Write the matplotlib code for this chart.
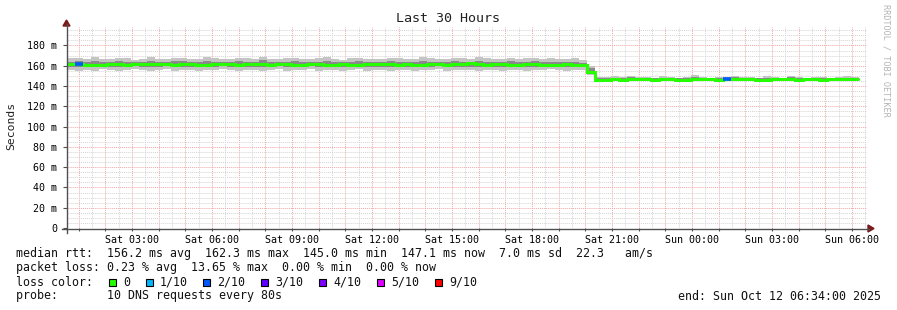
import numpy as np
import matplotlib
matplotlib.use("Agg")
import matplotlib.pyplot as plt
from matplotlib.patches import Rectangle, Polygon
from matplotlib.lines import Line2D
from matplotlib.ticker import MultipleLocator

# --- Data: 18 minute bins, window starts Sat 00:34 (hours since Sat 00:00) ---
start_h = 34 / 60
bin_h = 0.3

median = [
    161.4, 162.0, 160.8, 161.2, 161.0, 161.8, 161.6, 160.9, 161.4, 161.9,
    162.1, 161.7, 161.3, 160.7, 161.5, 161.9, 161.2, 160.8, 161.6, 162.0,
    161.4, 161.1, 161.8, 162.2, 161.5, 160.9, 161.3, 161.7, 160.6, 161.2,
    161.8, 161.4, 160.8, 161.0, 161.6, 161.2, 160.7, 161.5, 162.0, 161.9,
    161.3, 160.9, 161.4, 161.1, 160.8, 161.7, 161.3, 161.0, 161.5, 162.1,
    162.3, 161.6, 161.0, 161.4, 161.8, 161.2, 160.9, 161.3, 161.6, 161.1,
    160.8, 161.2, 161.5, 161.0, 160.6, 154.0, 146.0, 146.4, 146.8, 146.3,
    146.6, 147.0, 146.5, 146.2, 146.7, 146.9, 146.4, 146.1, 146.6, 147.1,
    146.8, 146.3, 146.5, 146.9, 147.2, 146.6, 146.2, 146.4, 146.8, 147.0,
    146.5, 146.3, 146.7, 146.9, 146.4, 146.6, 147.0, 146.8, 147.1,
]

smoke_hi = [
    167.5, 168.0, 167.0, 168.5, 166.5, 167.0, 168.0, 167.5, 166.0, 167.0,
    168.5, 167.0, 166.5, 167.5, 168.0, 166.5, 167.0, 168.5, 167.5, 166.5,
    167.0, 168.0, 167.5, 166.5, 169.0, 167.0, 166.5, 167.5, 168.0, 167.0,
    166.5, 167.5, 168.5, 167.0, 166.0, 167.5, 168.0, 167.0, 166.5, 167.0,
    168.0, 167.5, 166.5, 167.0, 168.5, 167.5, 166.5, 167.0, 168.0, 167.5,
    167.0, 168.5, 167.5, 166.5, 167.0, 168.0, 167.0, 167.5, 168.0, 166.5,
    167.5, 167.0, 166.5, 167.5, 166.0, 160.0, 149.0, 148.5, 149.5, 148.5,
    150.0, 148.5, 149.0, 148.0, 149.5, 148.5, 148.0, 149.0, 150.5, 148.5,
    148.0, 149.0, 148.5, 150.0, 149.0, 148.5, 148.0, 149.5, 148.5, 148.0,
    150.0, 148.5, 148.0, 149.0, 148.5, 148.0, 148.5, 149.5, 148.5,
]

smoke_lo = [
    155.5, 155.0, 156.0, 154.5, 156.5, 155.5, 155.0, 156.0, 156.5, 155.5,
    155.0, 156.0, 156.5, 155.0, 155.5, 156.0, 154.5, 155.5, 156.0, 156.5,
    155.5, 155.0, 156.0, 155.5, 154.5, 156.0, 156.5, 155.0, 155.5, 156.0,
    156.5, 155.0, 155.5, 156.0, 155.0, 155.5, 156.5, 155.0, 156.0, 155.5,
    155.0, 156.0, 155.5, 154.5, 156.0, 155.5, 156.5, 155.0, 155.5, 156.0,
    155.5, 155.0, 156.0, 155.5, 154.5, 156.0, 155.5, 155.0, 156.0, 155.5,
    156.5, 155.5, 155.0, 155.5, 156.0, 151.0, 145.0, 145.0, 145.5, 145.0,
    145.5, 145.0, 145.5, 145.0, 145.5, 145.0, 145.0, 145.5, 145.0, 145.0,
    145.5, 145.0, 145.0, 145.5, 145.0, 145.5, 145.0, 145.0, 145.5, 145.0,
    145.0, 145.5, 145.0, 145.0, 145.5, 145.0, 145.0, 145.5, 145.0,
]

core_hi = [
    164.0, 164.5, 163.5, 165.0, 163.5, 164.0, 164.5, 164.0, 163.5, 164.0,
    165.0, 164.0, 163.5, 164.5, 164.5, 163.5, 164.0, 165.0, 164.0, 163.5,
    164.0, 164.5, 164.0, 163.5, 165.5, 164.0, 163.5, 164.0, 164.5, 164.0,
    163.5, 164.0, 165.0, 164.0, 163.5, 164.0, 164.5, 164.0, 163.5, 164.0,
    164.5, 164.0, 163.5, 164.0, 165.0, 164.0, 163.5, 164.0, 164.5, 164.0,
    164.0, 165.0, 164.0, 163.5, 164.0, 164.5, 164.0, 164.0, 164.5, 163.5,
    164.0, 164.0, 163.5, 164.0, 163.0, 157.5, 147.5, 147.5, 148.0, 147.5,
    148.5, 148.0, 147.5, 147.5, 148.0, 148.0, 147.5, 147.5, 148.5, 148.0,
    147.5, 148.0, 147.5, 148.5, 148.0, 147.5, 147.5, 148.0, 148.0, 147.5,
    148.5, 147.5, 147.5, 148.0, 147.5, 147.5, 148.0, 148.0, 148.0,
]

core_lo = [
    159.0, 158.5, 159.0, 158.5, 159.5, 159.0, 158.5, 159.0, 159.5, 159.0,
    158.5, 159.0, 159.5, 158.5, 159.0, 159.0, 158.5, 159.0, 159.0, 159.5,
    159.0, 158.5, 159.0, 159.0, 158.5, 159.0, 159.5, 158.5, 159.0, 159.0,
    159.5, 158.5, 159.0, 159.0, 158.5, 159.0, 159.5, 158.5, 159.0, 159.0,
    158.5, 159.0, 159.0, 158.5, 159.0, 159.0, 159.5, 158.5, 159.0, 159.0,
    159.0, 158.5, 159.0, 159.0, 158.5, 159.0, 159.0, 158.5, 159.0, 159.0,
    159.5, 159.0, 158.5, 159.0, 159.0, 152.5, 145.5, 145.5, 146.0, 145.5,
    145.5, 145.5, 146.0, 145.5, 145.5, 146.0, 145.5, 145.5, 145.5, 146.0,
    145.5, 145.5, 146.0, 145.5, 146.0, 145.5, 145.5, 145.5, 146.0, 145.5,
    145.5, 146.0, 145.5, 145.5, 146.0, 145.5, 145.5, 146.0, 145.5,
]

# bins that lost pings (out of 10)
loss_bins = [1, 82]
loss_count = [2, 2]

loss_colors = {0: "#26ff00", 1: "#00b8ff", 2: "#0059ff", 3: "#5e00ff",
               4: "#7e00ff", 5: "#dd00ff", 9: "#ff0000"}
legend_keys = [0, 1, 2, 3, 4, 5, 9]
legend_labels = ["0", "1/10", "2/10", "3/10", "4/10", "5/10", "9/10"]

y_ticks = [0, 20, 40, 60, 80, 100, 120, 140, 160, 180]
y_labels = ["0", "20 m", "40 m", "60 m", "80 m", "100 m", "120 m", "140 m", "160 m", "180 m"]
x_label_hours = [3, 6, 9, 12, 15, 18, 21, 24, 27, 30]
x_labels = ["Sat 03:00", "Sat 06:00", "Sat 09:00", "Sat 12:00", "Sat 15:00",
            "Sat 18:00", "Sat 21:00", "Sun 00:00", "Sun 03:00", "Sun 06:00"]

rtt_line = "median rtt:  156.2 ms avg  162.3 ms max  145.0 ms min  147.1 ms now  7.0 ms sd  22.3   am/s"
loss_line = "packet loss: 0.23 % avg  13.65 % max  0.00 % min  0.00 % now"
probe_line = "probe:       10 DNS requests every 80s"
end_line = "end: Sun Oct 12 06:34:00 2025"

# --- Figure ---
W, H = 897, 310
MONO = "DejaVu Sans Mono"
plt.rcParams["font.family"] = MONO

def fx(px):
    return px / W

def fy(py):
    return 1 - py / H

fig = plt.figure(figsize=(W / 100, H / 100), dpi=100)
ax = fig.add_axes([fx(67), fy(228), 800 / W, 201 / H])
ax.set_xlim(start_h, start_h + 30)
ax.set_ylim(0, 198.2)
for s in ax.spines.values():
    s.set_visible(False)

# grid
ax.yaxis.set_major_locator(MultipleLocator(20))
ax.yaxis.set_minor_locator(MultipleLocator(5))
ax.xaxis.set_major_locator(MultipleLocator(1))
ax.xaxis.set_minor_locator(MultipleLocator(0.5))
ax.grid(which="minor", color="#d4d4d4", linestyle=(0, (1, 1)), linewidth=0.7)
ax.grid(which="major", color="#f2a6a6", linestyle=(0, (1, 1)), linewidth=0.7)
ax.set_axisbelow(True)

ax.set_yticks(y_ticks)
ax.set_yticklabels(y_labels)
hour_ticks = list(range(1, 31))
ax.set_xticks(hour_ticks)
ax.set_xticklabels([x_labels[x_label_hours.index(h)] if h in x_label_hours else "" for h in hour_ticks])
ax.tick_params(which="major", labelsize=7.2, color="#505050", width=0.8)
ax.tick_params(axis="x", which="major", length=2, pad=3)
ax.tick_params(axis="y", which="major", length=3, pad=4)
ax.tick_params(which="minor", length=0)

# smoke + median
n = len(median)
left = start_h + np.arange(n) * bin_h
edges = start_h + np.arange(n + 1) * bin_h
lo = np.array(smoke_lo)
hi = np.array(smoke_hi)
clo = np.array(core_lo)
chi = np.array(core_hi)
ax.bar(left, hi - lo, bottom=lo, width=bin_h, align="edge", color="#c4c4c4", linewidth=0, zorder=2)
ax.bar(left, chi - clo, bottom=clo, width=bin_h, align="edge", color="#8a8a8a", linewidth=0, zorder=3)
ax.stairs(median, edges, baseline=None, color="#333333", linewidth=1.0, zorder=4)
ax.stairs(median, edges, baseline=None, color=loss_colors[0], linewidth=2.2, zorder=5)
for b, c in zip(loss_bins, loss_count):
    ax.hlines(median[b], left[b], left[b] + bin_h, color=loss_colors[c], linewidth=2.6, zorder=6)

# axis lines with arrows
axis_col = "#505050"
arrow_col = "#7a1a1a"
fig.add_artist(Line2D([fx(62), fx(869)], [fy(228.5), fy(228.5)], color=axis_col, lw=1))
fig.add_artist(Line2D([fx(66.5), fx(66.5)], [fy(233), fy(24)], color=axis_col, lw=1))
fig.add_artist(Polygon([[fx(868), fy(225)], [fx(874), fy(228.5)], [fx(868), fy(232)]],
                       closed=True, color=arrow_col))
fig.add_artist(Polygon([[fx(63), fy(26)], [fx(66.5), fy(20)], [fx(70), fy(26)]],
                       closed=True, color=arrow_col))

# titles
fig.text(fx(448), fy(19), "Last 30 Hours", ha="center", va="center", fontsize=9.6, color="#222222")
fig.text(fx(11), fy(126), "Seconds", ha="center", va="center", rotation=90, fontsize=8.2, color="#222222")
fig.text(fx(886), fy(4), "RRDTOOL / TOBI OETIKER", ha="center", va="top", rotation=270,
         fontsize=6.1, color="#b4b4b4")

# legend block
txt = dict(ha="left", va="center", fontsize=8.4, color="#111111")
fig.text(fx(16), fy(254), rtt_line, **txt)
fig.text(fx(16), fy(268), loss_line, **txt)
fig.text(fx(16), fy(282), "loss color:", **txt)
sq_x = [109, 146, 203, 261, 319, 377, 435]
for x0, k, lab in zip(sq_x, legend_keys, legend_labels):
    fig.add_artist(Rectangle((fx(x0), fy(286)), 7 / W, 7 / H, facecolor=loss_colors[k],
                             edgecolor="black", linewidth=0.8))
    fig.text(fx(x0 + 14), fy(282), lab, **txt)
fig.text(fx(16), fy(296), probe_line, **txt)
fig.text(fx(881), fy(296), end_line, ha="right", va="center", fontsize=8.4, color="#111111")

fig.savefig("out.png", dpi=100)
